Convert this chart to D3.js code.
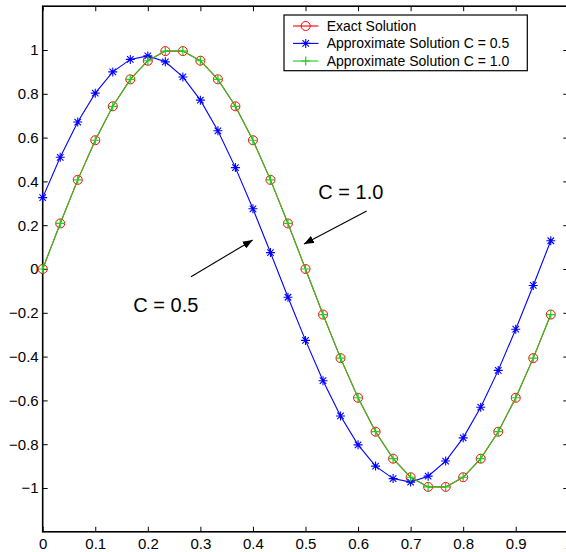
<!DOCTYPE html>
<html>
<head>
<meta charset="utf-8">
<script src="https://cdn.jsdelivr.net/npm/d3@7"></script>
<style>
  html, body { margin: 0; padding: 0; background: #fff; }
  svg { display: block; }
  text { font-family: "Liberation Sans", Arial, Helvetica, sans-serif; fill: #000; }
</style>
</head>
<body>
<svg id="chart" width="566" height="552"></svg>
<script>
// ---- data ----
const xValues = d3.range(30).map(i => i / 30);
const exactSolution = [0, 0.208, 0.407, 0.588, 0.743, 0.866, 0.951, 0.995, 0.995, 0.951,
  0.866, 0.743, 0.588, 0.407, 0.208, 0, -0.208, -0.407, -0.588, -0.743,
  -0.866, -0.951, -0.995, -0.995, -0.951, -0.866, -0.743, -0.588, -0.407, -0.208];
const approxC05 = [0.326, 0.510, 0.671, 0.803, 0.900, 0.957, 0.973, 0.946, 0.877, 0.771,
  0.631, 0.463, 0.275, 0.075, -0.129, -0.326, -0.510, -0.671, -0.803, -0.900,
  -0.957, -0.973, -0.946, -0.877, -0.771, -0.631, -0.463, -0.275, -0.075, 0.129];
const approxC10 = [0, 0.208, 0.407, 0.588, 0.743, 0.866, 0.951, 0.995, 0.995, 0.951,
  0.866, 0.743, 0.588, 0.407, 0.208, 0, -0.208, -0.407, -0.588, -0.743,
  -0.866, -0.951, -0.995, -0.995, -0.951, -0.866, -0.743, -0.588, -0.407, -0.208];
const xTicks = [0, 0.1, 0.2, 0.3, 0.4, 0.5, 0.6, 0.7, 0.8, 0.9, 1];
const xTickLabels = ["0", "0.1", "0.2", "0.3", "0.4", "0.5", "0.6", "0.7", "0.8", "0.9", "1"];
const yTicks = [-1, -0.8, -0.6, -0.4, -0.2, 0, 0.2, 0.4, 0.6, 0.8, 1];
const yTickLabels = ["\u22121", "\u22120.8", "\u22120.6", "\u22120.4", "\u22120.2", "0", "0.2", "0.4", "0.6", "0.8", "1"];
const legendLabels = ["Exact Solution", "Approximate Solution C = 0.5", "Approximate Solution C = 1.0"];

// ---- layout ----
const L = 42.7, R = 568.3, T = 6.2, B = 531.8;
const svg = d3.select("#chart");
const x = d3.scaleLinear().domain([0, 1]).range([L, R]);
const y = d3.scaleLinear().domain([-1.2, 1.2]).range([B, T]);

const COL_RED = "#ff0000", COL_BLUE = "#0000ff", COL_GREEN = "#22cc22";

// axes (inward ticks)
const fs = 15;
function styleAxis(g) {
  g.select(".domain").remove();
  g.selectAll(".tick line").attr("stroke", "#000").attr("stroke-width", 1);
  g.selectAll("text").style("font-size", fs + "px").attr("fill", "#000");
}
svg.append("g").attr("transform", `translate(0,${B})`)
  .call(d3.axisBottom(x).tickValues(xTicks).tickFormat((d, i) => xTickLabels[i])
    .tickSizeInner(-5).tickSizeOuter(0).tickPadding(6.5))
  .call(styleAxis);
svg.append("g").attr("transform", `translate(0,${T})`)
  .call(d3.axisTop(x).tickValues(xTicks).tickFormat("")
    .tickSizeInner(-5).tickSizeOuter(0))
  .call(styleAxis);
svg.append("g").attr("transform", `translate(${L},0)`)
  .call(d3.axisLeft(y).tickValues(yTicks).tickFormat((d, i) => yTickLabels[i])
    .tickSizeInner(-5).tickSizeOuter(0).tickPadding(4))
  .call(styleAxis);
svg.append("g").attr("transform", `translate(${R},0)`)
  .call(d3.axisRight(y).tickValues(yTicks).tickFormat("")
    .tickSizeInner(-5).tickSizeOuter(0))
  .call(styleAxis);

// frame
svg.append("rect").attr("x", L).attr("y", T).attr("width", R - L).attr("height", B - T)
  .attr("fill", "none").attr("stroke", "#000").attr("stroke-width", 1.6);

// ---- series ----
const line = d3.line().x((d, i) => x(xValues[i])).y(d => y(d));
const ms = 4.5;

function drawCircles(g, cx, cy, color) {
  g.append("circle").attr("cx", cx).attr("cy", cy).attr("r", ms)
    .attr("fill", "none").attr("stroke", color).attr("stroke-width", 1);
}
function drawPlus(g, cx, cy, color) {
  g.append("path").attr("d", `M${cx - ms},${cy}H${cx + ms}M${cx},${cy - ms}V${cy + ms}`)
    .attr("stroke", color).attr("stroke-width", 1.2).attr("fill", "none");
}
function drawStar(g, cx, cy, color) {
  const d = ms * 0.72;
  g.append("path").attr("d",
    `M${cx - ms},${cy}H${cx + ms}M${cx},${cy - ms}V${cy + ms}` +
    `M${cx - d},${cy - d}L${cx + d},${cy + d}M${cx - d},${cy + d}L${cx + d},${cy - d}`)
    .attr("stroke", color).attr("stroke-width", 1.1).attr("fill", "none");
}

const series = [
  { values: exactSolution, color: COL_RED, marker: drawCircles },
  { values: approxC05, color: COL_BLUE, marker: drawStar },
  { values: approxC10, color: COL_GREEN, marker: drawPlus }
];

series.forEach(s => {
  const g = svg.append("g");
  g.append("path").attr("d", line(s.values)).attr("fill", "none")
    .attr("stroke", s.color).attr("stroke-width", 1.1);
  s.values.forEach((v, i) => s.marker(g, x(xValues[i]), y(v), s.color));
});

// ---- legend ----
const lg = svg.append("g");
lg.append("rect").attr("x", 284).attr("y", 15).attr("width", 243.3).attr("height", 55.7)
  .attr("fill", "#fff").attr("stroke", "#000").attr("stroke-width", 1.2);
const rowsY = [26, 43.4, 61];
series.forEach((s, i) => {
  const cy = rowsY[i];
  lg.append("line").attr("x1", 293).attr("x2", 318.5).attr("y1", cy).attr("y2", cy)
    .attr("stroke", s.color).attr("stroke-width", 1.1);
  s.marker(lg, 305.7, cy, s.color);
  lg.append("text").attr("x", 326.7).attr("y", cy + 5).style("font-size", "14px")
    .text(legendLabels[i]);
});

// ---- annotations ----
const defs = svg.append("defs");
defs.append("marker").attr("id", "arrow").attr("viewBox", "0 0 10 8")
  .attr("refX", 10).attr("refY", 4).attr("markerWidth", 10).attr("markerHeight", 8)
  .attr("markerUnits", "userSpaceOnUse").attr("orient", "auto")
  .append("path").attr("d", "M0,0L10,4L0,8Z").attr("fill", "#000");

svg.append("line").attr("x1", 366.7).attr("y1", 211).attr("x2", 304).attr("y2", 244)
  .attr("stroke", "#000").attr("stroke-width", 1.1).attr("marker-end", "url(#arrow)");
svg.append("line").attr("x1", 191).attr("y1", 276.7).attr("x2", 252.7).attr("y2", 240)
  .attr("stroke", "#000").attr("stroke-width", 1.1).attr("marker-end", "url(#arrow)");

svg.append("text").attr("x", 318.3).attr("y", 199.3).style("font-size", "20px").text("C = 1.0");
svg.append("text").attr("x", 133.3).attr("y", 311.7).style("font-size", "20px").text("C = 0.5");
</script>
</body>
</html>
